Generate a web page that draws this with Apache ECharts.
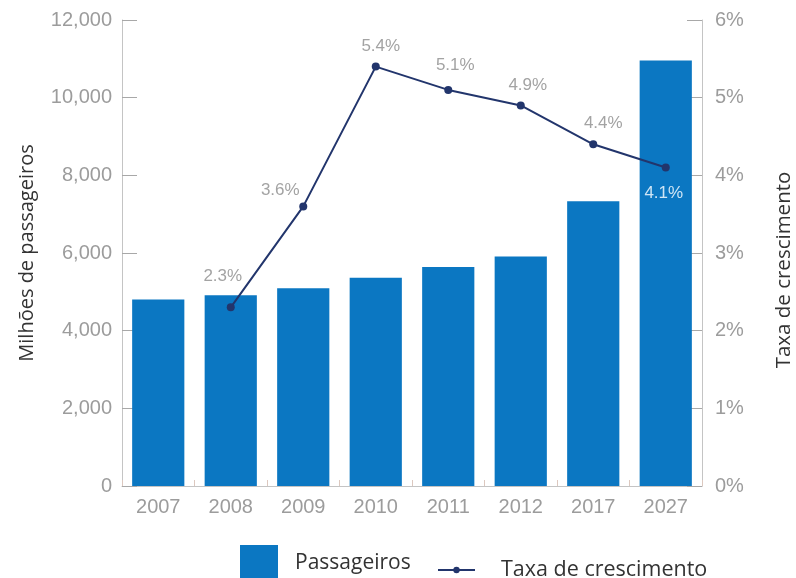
<!DOCTYPE html>
<html>
<head>
<meta charset="utf-8">
<script src="https://cdn.jsdelivr.net/npm/echarts@6/dist/echarts.min.js"></script>
<style>
  html, body { margin: 0; padding: 0; background: #ffffff; }
  #chart { width: 796px; height: 578px; }
</style>
</head>
<body>
<div id="chart"></div>
<script>
// Anos (eixo das categorias)
const years = ['2007', '2008', '2009', '2010', '2011', '2012', '2017', '2027'];
// Milhões de passageiros por ano
const passengers = [4800, 4910, 5090, 5360, 5640, 5910, 7330, 10960];
// Taxa de crescimento anual (%)
const growth = [null, 2.3, 3.6, 5.4, 5.1, 4.9, 4.4, 4.1];

// Deslocamento de cada rótulo percentual em relação ao ponto
const growthLabelShift = [null, [-8, -11], [-23, 4], [5, 0], [7, -4], [7, 0], [10, 0], [-2, 5]];

const BAR_BLUE = '#0b77c2';
const LINE_NAVY = '#22356c';
const TICK_GREY = '#9c9c9c';
const AXIS_GREY = '#c4c4c4';
const TICK_FONT = '"Liberation Sans", Arial, sans-serif';
const TEXT_FONT = '"Open Sans", "Noto Sans", sans-serif';

const growthData = growth.map(function (v, i) {
  if (v === null) return null;
  const item = { value: v, label: { offset: growthLabelShift[i] } };
  if (i === growth.length - 1) {
    item.label.position = 'bottom';
    item.label.color = '#cfe5f5';
  }
  return item;
});

const chart = echarts.init(document.getElementById('chart'), null, { renderer: 'canvas' });

chart.setOption({
  backgroundColor: '#ffffff',
  animation: false,
  grid: { left: 122, right: 94, top: 20, bottom: 92, containLabel: false, outerBoundsMode: 'none' },
  legend: [
    {
      data: ['Passageiros'],
      left: 240, top: 545,
      padding: 0,
      itemWidth: 38, itemHeight: 36,
      icon: 'rect',
      textStyle: { fontFamily: TEXT_FONT, fontSize: 21, color: '#333333', padding: [0, 0, 0, 12] }
    },
    {
      data: ['Taxa de crescimento'],
      left: 437, top: 559,
      padding: 0,
      itemWidth: 37, itemHeight: 8,
      textStyle: { fontFamily: TEXT_FONT, fontSize: 21.5, color: '#333333', padding: [0, 0, 0, 21] }
    }
  ],
  xAxis: {
    type: 'category',
    data: years,
    axisLine: { show: true, lineStyle: { color: AXIS_GREY, width: 1 } },
    axisTick: { show: true, inside: true, length: 6, lineStyle: { color: '#dcc8bf' } },
    axisLabel: { fontFamily: TICK_FONT, fontSize: 20, color: TICK_GREY, margin: 11 }
  },
  yAxis: [
    {
      type: 'value',
      min: 0, max: 12000, interval: 2000,
      name: 'Milhões de passageiros',
      nameLocation: 'middle',
      nameRotate: 90,
      nameGap: 85,
      nameTextStyle: { fontFamily: TEXT_FONT, fontSize: 20, color: '#333333' },
      axisLine: { show: true, lineStyle: { color: AXIS_GREY, width: 1 } },
      axisTick: { show: true, inside: true, length: 15, lineStyle: { color: '#a8a8a8' } },
      splitLine: { show: false },
      axisLabel: {
        fontFamily: TICK_FONT, fontSize: 20, color: TICK_GREY, margin: 10,
        formatter: function (v) { return v.toLocaleString('en-US'); }
      }
    },
    {
      type: 'value',
      min: 0, max: 6, interval: 1,
      name: 'Taxa de crescimento',
      nameLocation: 'middle',
      nameRotate: 90,
      nameGap: 72,
      nameTextStyle: { fontFamily: TEXT_FONT, fontSize: 20.5, color: '#333333', padding: [0, 34, 0, 0] },
      axisLine: { show: true, lineStyle: { color: AXIS_GREY, width: 1 } },
      axisTick: { show: true, inside: true, length: 15, lineStyle: { color: '#a8a8a8' } },
      splitLine: { show: false },
      axisLabel: {
        fontFamily: TICK_FONT, fontSize: 20, color: TICK_GREY, margin: 13,
        formatter: function (v) { return v + '%'; }
      }
    }
  ],
  series: [
    {
      name: 'Passageiros',
      type: 'bar',
      yAxisIndex: 0,
      data: passengers,
      barCategoryGap: '28%',
      itemStyle: { color: BAR_BLUE }
    },
    {
      name: 'Taxa de crescimento',
      type: 'line',
      yAxisIndex: 1,
      data: growthData,
      connectNulls: false,
      symbol: 'circle',
      symbolSize: 8,
      lineStyle: { color: LINE_NAVY, width: 2 },
      itemStyle: { color: LINE_NAVY },
      label: {
        show: true,
        position: 'top',
        distance: 8,
        fontFamily: TICK_FONT,
        fontSize: 17,
        color: '#a3a3a3',
        formatter: function (p) { return p.value + '%'; }
      },
      z: 5
    }
  ]
});
</script>
</body>
</html>
